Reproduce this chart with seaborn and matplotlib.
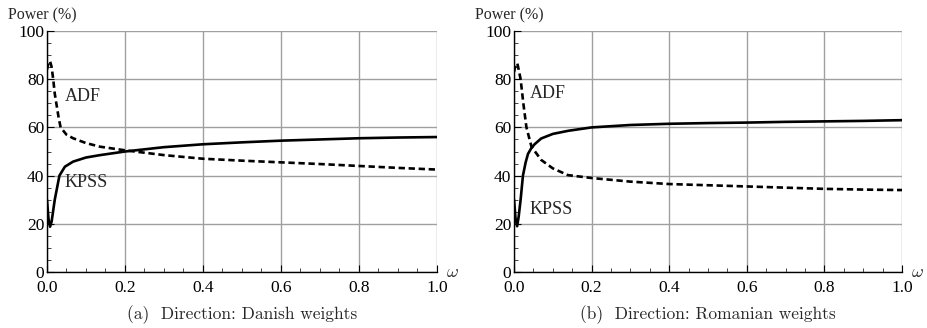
import matplotlib
matplotlib.use('Agg')
import matplotlib.pyplot as plt
import pandas as pd
import seaborn as sns
from matplotlib.ticker import MultipleLocator

sns.set_style('white')
plt.rcParams['font.family'] = ['Liberation Serif', 'DejaVu Serif']
plt.rcParams['mathtext.fontset'] = 'cm'

# Danish weights
w_a = [0.0, 0.004, 0.008, 0.012, 0.02, 0.032, 0.046, 0.067, 0.1, 0.136, 0.2, 0.3, 0.4, 0.5, 0.6, 0.7, 0.8, 0.9, 1.0]
kpss_a = [30, 22, 18.8, 21, 30, 40, 43.7, 45.8, 47.5, 48.5, 50, 51.8, 53, 53.8, 54.5, 55, 55.5, 55.8, 56]
w_a2 = [0.0, 0.004, 0.008, 0.012, 0.016, 0.02, 0.03, 0.035, 0.05, 0.067, 0.1, 0.136, 0.2, 0.3, 0.4, 0.5, 0.6, 0.7, 0.8, 0.9, 1.0]
adf_a = [84, 87, 87.5, 85, 80, 74, 64, 60, 57, 55.5, 53.5, 52, 50.5, 48.5, 47, 46.2, 45.5, 44.8, 44, 43.2, 42.5]

# Romanian weights
w_b = [0.0, 0.004, 0.008, 0.012, 0.017, 0.023, 0.03, 0.036, 0.045, 0.053, 0.07, 0.1, 0.14, 0.2, 0.3, 0.4, 0.5, 0.6, 0.7, 0.8, 0.9, 1.0]
kpss_b = [30, 22, 19, 23, 30, 40, 45.5, 49, 51.5, 53, 55.4, 57.3, 58.6, 60, 61, 61.5, 61.8, 62, 62.3, 62.5, 62.7, 63]
w_b2 = [0.0, 0.004, 0.0085, 0.012, 0.017, 0.024, 0.032, 0.045, 0.07, 0.1, 0.139, 0.2, 0.3, 0.4, 0.5, 0.6, 0.7, 0.8, 0.9, 1.0]
adf_b = [83, 86, 86.6, 84, 80, 70, 60, 52, 46.5, 43, 40.2, 39, 37.5, 36.5, 36, 35.5, 35, 34.5, 34.2, 34]

captions = ['(a)  Direction: Danish weights', '(b)  Direction: Romanian weights']
label_pos = [((0.045, 73), (0.045, 37)), ((0.04, 74), (0.04, 26))]

fig = plt.figure(figsize=(9.28, 3.28), dpi=100)
ax_a = fig.add_axes([0.0506, 0.1707, 0.4203, 0.7348])
ax_b = fig.add_axes([0.5539, 0.1707, 0.4181, 0.7348])

panels = [(ax_a, w_a, kpss_a, w_a2, adf_a), (ax_b, w_b, kpss_b, w_b2, adf_b)]
for i, (ax, w, kpss, w2, adf) in enumerate(panels):
    df_k = pd.DataFrame({'w': w, 'power': kpss})
    df_d = pd.DataFrame({'w': w2, 'power': adf})
    sns.lineplot(data=df_k, x='w', y='power', ax=ax, color='black', lw=1.9)
    sns.lineplot(data=df_d, x='w', y='power', ax=ax, color='black', lw=1.9, linestyle=(0, (2.4, 1.4)))
    ax.set_xlim(0, 1)
    ax.set_ylim(0, 100)
    ax.xaxis.set_major_locator(MultipleLocator(0.2))
    ax.xaxis.set_minor_locator(MultipleLocator(0.05))
    ax.yaxis.set_major_locator(MultipleLocator(20))
    ax.yaxis.set_minor_locator(MultipleLocator(5))
    ax.xaxis.set_major_formatter(plt.FuncFormatter(lambda v, p: f'{v:.1f}'))
    ax.yaxis.set_major_formatter(plt.FuncFormatter(lambda v, p: f'{v:.0f}'))
    ax.grid(True, which='major', color='#a0a0a0', lw=1)
    ax.set_axisbelow(True)
    for s in ['top', 'right']:
        ax.spines[s].set_visible(False)
    for s in ['left', 'bottom']:
        ax.spines[s].set_color('black')
        ax.spines[s].set_linewidth(1)
    ax.tick_params(which='major', direction='in', length=5, width=0.8, labelsize=12.5,
                   left=True, bottom=True, colors='black')
    ax.tick_params(axis='x', which='major', pad=6)
    ax.tick_params(axis='y', which='major', pad=2)
    ax.tick_params(which='minor', direction='in', length=3, width=0.6, left=True, bottom=True)
    ax.set_xlabel('')
    ax.set_ylabel('')
    ax.text(-0.013, 1.066, 'Power (%)', transform=ax.transAxes, ha='center', va='center', fontsize=11.5)
    ax.text(1.04, 0.0, r'$\omega$', transform=ax.transAxes, ha='center', va='center', fontsize=13)
    (ax_adf, ay_adf), (ax_k, ay_k) = label_pos[i]
    ax.text(ax_adf, ay_adf, 'ADF', ha='left', va='center', fontsize=13)
    ax.text(ax_k, ay_k, 'KPSS', ha='left', va='center', fontsize=13)
    ax.text(0.5, -0.195, captions[i], transform=ax.transAxes, ha='center', va='baseline',
            fontsize=12.5, family=['cmr10', 'DejaVu Serif'])

fig.savefig('out.png', dpi=100)
